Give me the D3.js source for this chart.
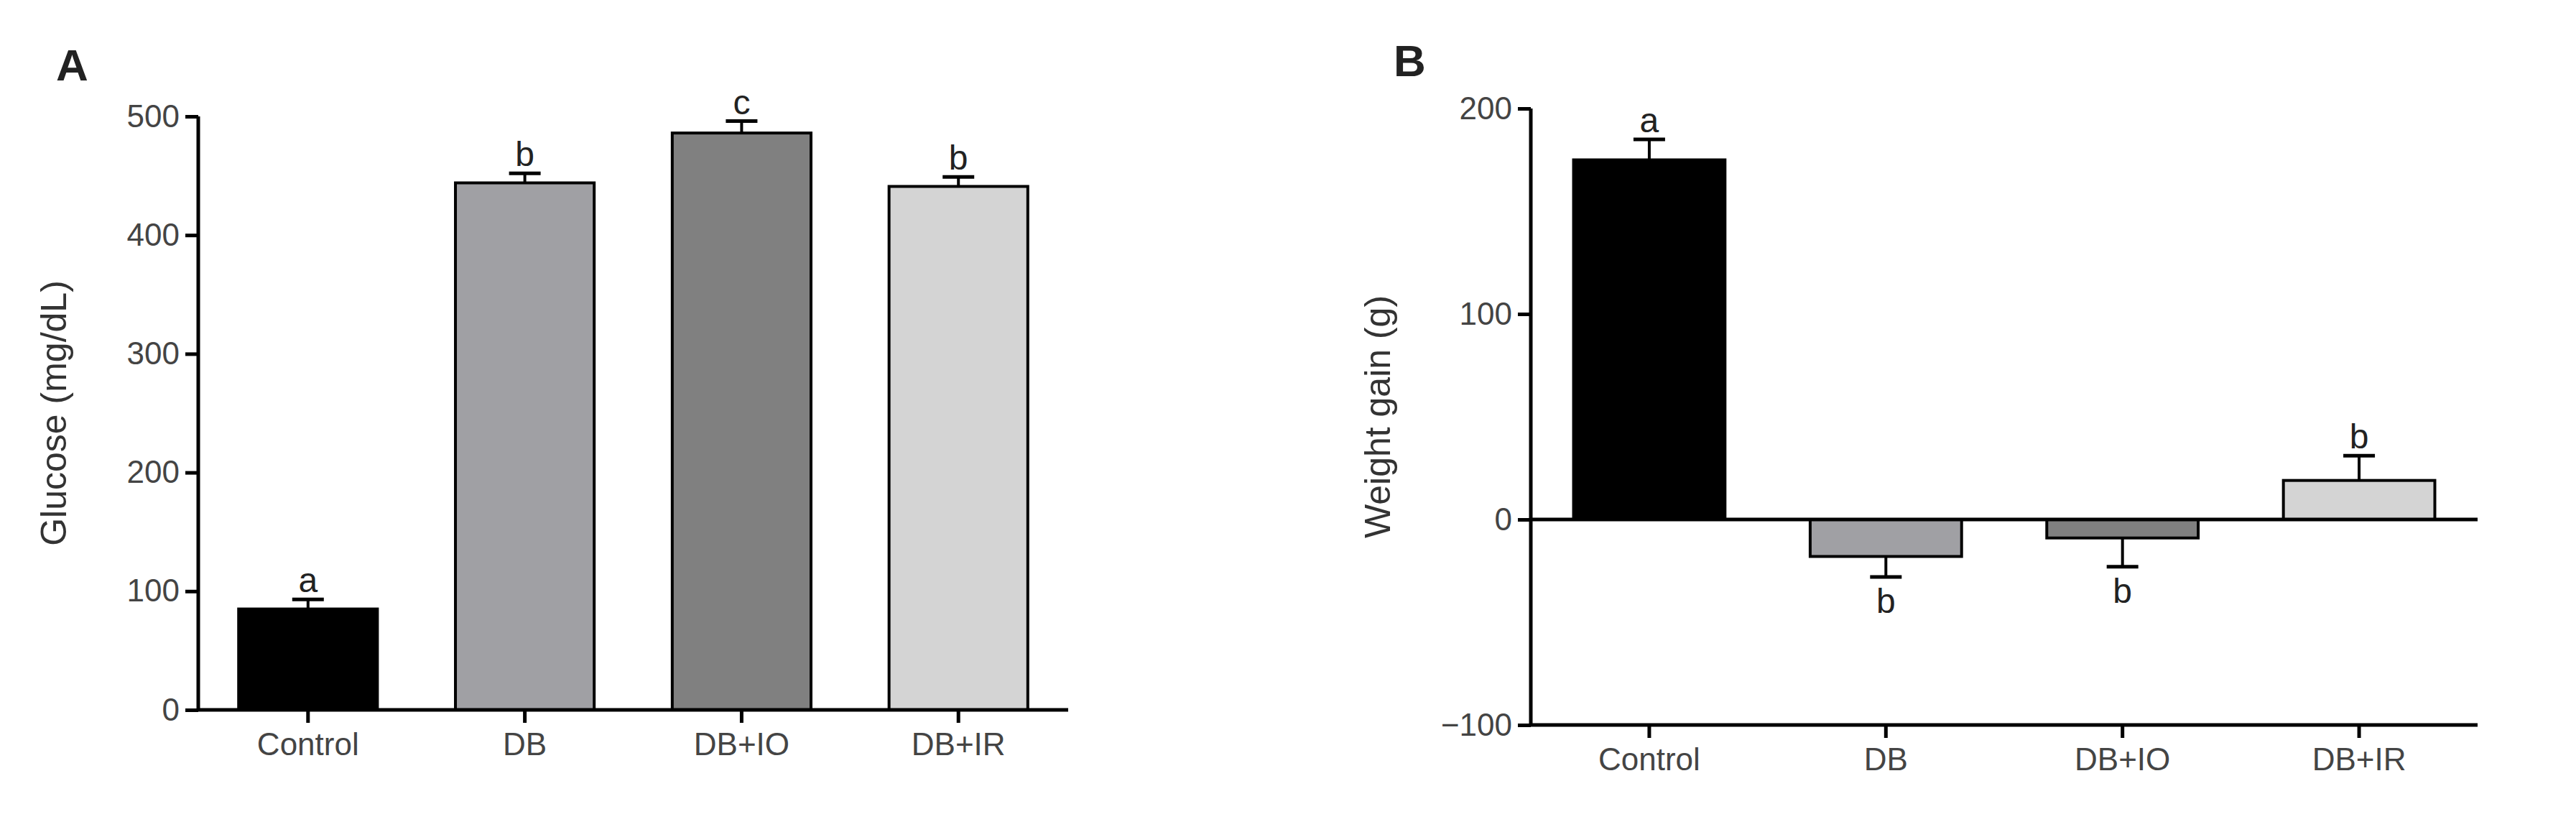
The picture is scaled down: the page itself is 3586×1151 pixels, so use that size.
<!DOCTYPE html>
<html><head><meta charset="utf-8">
<script src="https://cdn.jsdelivr.net/npm/d3@7"></script>
<style>body{margin:0;background:#fff}text{font-family:"Liberation Sans",Arial,sans-serif}</style>
</head><body><svg id="c" width="3586" height="1151"></svg>
<script>
const categories=["Control","DB","DB+IO","DB+IR"];
const glucose=[85,444,486,441];
const glucoseErr=[8,8,10,8];
const glucoseLetters=["a","b","c","b"];
const weight=[175,-18,-9,19];
const weightErr=[10,10,14,12];
const weightLetters=["a","b","b","b"];
const colors=["#000000","#a0a0a4","#808080","#d4d4d4"];
const glucoseTicks=[0,100,200,300,400,500];
const weightTicks=[-100,0,100,200];

const svg=d3.select("#c");
function panel(o){
  const g=svg.append("g");
  const x=d3.scaleBand().domain(categories).range([o.x0+20,o.x1]).paddingInner(0.36).paddingOuter(0.12);
  const y=d3.scaleLinear().domain(o.domain).range([o.yb,o.yt]);
  const ya=g.append("g").attr("transform",`translate(${o.x0},0)`).call(d3.axisLeft(y).tickValues(o.ticks).tickSize(18).tickPadding(8));
  ya.select(".domain").attr("stroke-width",5).attr("d",`M0,${o.yb}V${o.yt}`);
  ya.selectAll(".tick line").attr("stroke-width",5);
  ya.selectAll("text").attr("font-size",44).attr("fill","#444");
  // bars
  g.selectAll("rect").data(o.vals).join("rect")
    .attr("x",(d,i)=>x(categories[i])).attr("width",x.bandwidth())
    .attr("y",d=>y(Math.max(0,d))).attr("height",d=>Math.abs(y(d)-y(0)))
    .attr("fill",(d,i)=>colors[i]).attr("stroke","#000").attr("stroke-width",4);
  // error bars
  o.vals.forEach((v,i)=>{
    const cx=x(categories[i])+x.bandwidth()/2, s=v>=0?1:-1, e=v+s*o.err[i];
    g.append("line").attr("x1",cx).attr("x2",cx).attr("y1",y(v)).attr("y2",y(e)).attr("stroke","#000").attr("stroke-width",4);
    g.append("line").attr("x1",cx-22).attr("x2",cx+22).attr("y1",y(e)).attr("y2",y(e)).attr("stroke","#000").attr("stroke-width",5);
    g.append("text").attr("x",cx).attr("y",s>0?y(e)-10:y(e)+50).attr("text-anchor","middle").attr("font-size",48).attr("fill","#222").text(o.letters[i]);
  });
  // x axis
  const xa=g.append("g").attr("transform",`translate(0,${o.xAxisY})`).call(d3.axisBottom(x).tickSize(18).tickPadding(14));
  xa.select(".domain").attr("stroke-width",5).attr("d",`M${o.x0},0H${o.x1+20}`);
  xa.selectAll(".tick line").attr("stroke-width",5).attr("y1",0);
  xa.selectAll("text").attr("font-size",44).attr("fill","#444");
  if(o.zeroLine){g.append("line").attr("x1",o.x0).attr("x2",o.x1+20).attr("y1",y(0)).attr("y2",y(0)).attr("stroke","#000").attr("stroke-width",5);}
  g.append("text").attr("transform",`translate(${o.labX},${(o.yt+o.yb)/2}) rotate(-90)`).attr("text-anchor","middle").attr("font-size",50).attr("fill","#333").text(o.label);
  g.append("text").attr("x",o.letX).attr("y",o.letY).attr("font-size",62).attr("font-weight","bold").attr("fill","#222").text(o.letter);
}
panel({x0:276,x1:1467,yt:162,yb:988,domain:[0,500],ticks:glucoseTicks,vals:glucose,err:glucoseErr,letters:glucoseLetters,xAxisY:988,label:"Glucose (mg/dL)",labX:92,letter:"A",letX:78,letY:112});
panel({x0:2131,x1:3429,yt:151,yb:1009,domain:[-100,200],ticks:weightTicks,vals:weight,err:weightErr,letters:weightLetters,xAxisY:1009,zeroLine:true,label:"Weight gain (g)",labX:1935,letter:"B",letX:1940,letY:106});
</script></body></html>
